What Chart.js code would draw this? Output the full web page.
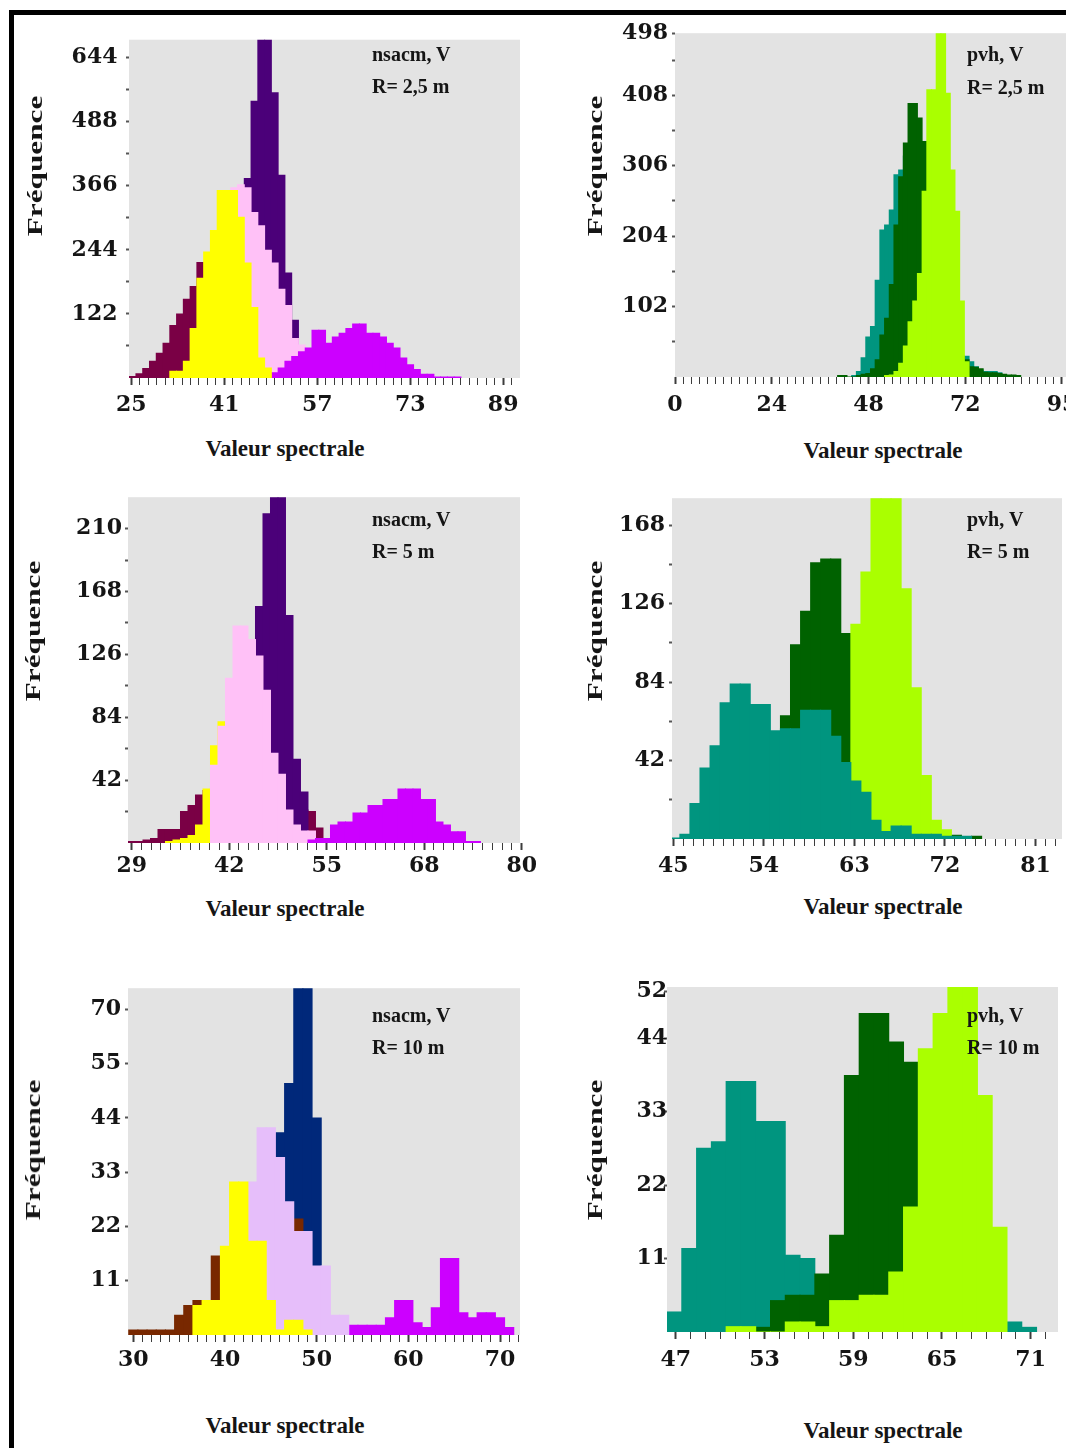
<!DOCTYPE html>
<html lang="fr">
<head>
<meta charset="utf-8">
<title>Histogrammes des valeurs spectrales</title>
<script src="https://cdn.jsdelivr.net/npm/chart.js@4.4.1/dist/chart.umd.min.js"></script>
<style>
    html, body { margin: 0; padding: 0; background: #ffffff; }
    body { position: relative; width: 1066px; height: 1448px; overflow: hidden; }
    .frame {
        position: absolute; left: 9px; top: 10px; width: 1200px; height: 1600px;
        border-left: 5px solid #000; border-top: 5px solid #000;
    }
    .panel { position: absolute; }
    .panel canvas { display: block; }
    .txt {
        position: absolute; white-space: nowrap; line-height: 1; color: #151515;
        font-family: 'Liberation Serif', 'Times New Roman', serif; z-index: 2;
    }
    .ytitle { font-size: 22px; font-weight: bold; transform: translate(-50%, -50%) rotate(-90deg) scaleX(1.42); }
    .xtitle { font-size: 23px; font-weight: bold; transform: translate(-50%, -50%); }
    .note { font-size: 20px; font-weight: bold; transform: translateY(-50%); }
</style>
</head>
<body>
<div class="frame"></div>

<!-- axis titles -->
<div class="txt ytitle" style="left:35px; top:166px;">Fréquence</div>
<div class="txt ytitle" style="left:595px; top:166px;">Fréquence</div>
<div class="txt ytitle" style="left:33px; top:631px;">Fréquence</div>
<div class="txt ytitle" style="left:595px; top:631px;">Fréquence</div>
<div class="txt ytitle" style="left:33px; top:1150px;">Fréquence</div>
<div class="txt ytitle" style="left:595px; top:1150px;">Fréquence</div>

<div class="txt xtitle" style="left:285px; top:448px;">Valeur spectrale</div>
<div class="txt xtitle" style="left:883px; top:450px;">Valeur spectrale</div>
<div class="txt xtitle" style="left:285px; top:908px;">Valeur spectrale</div>
<div class="txt xtitle" style="left:883px; top:906px;">Valeur spectrale</div>
<div class="txt xtitle" style="left:285px; top:1425px;">Valeur spectrale</div>
<div class="txt xtitle" style="left:883px; top:1430px;">Valeur spectrale</div>

<!-- panel notes -->
<div class="txt note" style="left:372px; top:54px;">nsacm, V</div>
<div class="txt note" style="left:372px; top:86px;">R= 2,5 m</div>
<div class="txt note" style="left:967px; top:54px;">pvh, V</div>
<div class="txt note" style="left:967px; top:87px;">R= 2,5 m</div>
<div class="txt note" style="left:372px; top:519px;">nsacm, V</div>
<div class="txt note" style="left:372px; top:551px;">R= 5 m</div>
<div class="txt note" style="left:967px; top:519px;">pvh, V</div>
<div class="txt note" style="left:967px; top:551px;">R= 5 m</div>
<div class="txt note" style="left:372px; top:1015px;">nsacm, V</div>
<div class="txt note" style="left:372px; top:1047px;">R= 10 m</div>
<div class="txt note" style="left:967px; top:1015px;">pvh, V</div>
<div class="txt note" style="left:967px; top:1047px;">R= 10 m</div>

<script>
// Histograms of spectral values, six panels (nsacm / pvh, R = 2,5 / 5 / 10 m)

// Colours
const colors = {
    plotBg: '#e3e3e3',
    maroon: '#7a0045',
    yellow: '#ffff00',
    pink: '#ffc1f7',
    indigo: '#4b0079',
    magenta: '#cc00ff',
    brown: '#782800',
    lavender: '#e6befa',
    navy: '#00287a',
    teal: '#00957f',
    darkGreen: '#006200',
    lightGreen: '#aaff00',
    tick: '#3c3c3c',
    text: '#151515'
};

// ---------- Panel 1 : nsacm, V, R = 2,5 m ----------
const p1BinStart = 24.63;
const p1BinWidth = 1.1655;
const p1MaroonFrom = 0;
const p1Maroon = [3, 8, 18, 32, 47, 66, 100, 122, 150, 174, 220, 200, 150, 100, 60, 30, 12];
const p1YellowFrom = 6;
const p1Yellow = [13, 13, 32, 94, 190, 240, 281, 357, 357, 357, 306, 219, 134, 38, 19];
const p1PinkFrom = 13;
const p1Pink = [250, 300, 362, 368, 362, 315, 290, 243, 219, 169, 138, 75, 63, 25, 15, 10];
const p1IndigoFrom = 15;
const p1Indigo = [250, 330, 380, 527, 650, 650, 543, 386, 200, 110];
const p1MagentaFrom = 21;
const p1Magenta = [10, 19, 32, 41, 50, 57, 91, 91, 66, 78, 85, 94, 103, 103, 85, 85, 78, 66, 57, 38, 25, 16, 7, 7, 2, 2, 2, 2];
const p1XMajor = [25, 41, 57, 73, 89];
const p1XLabels = ['25', '41', '57', '73', '89'];
const p1YTicks = [61, 122, 183, 244, 305, 366, 427, 488, 549, 610];
const p1YLabels = ['', '122', '', '244', '', '366', '', '488', '', '644'];

// ---------- Panel 2 : pvh, V, R = 2,5 m ----------
const p2BinStart = 33.35;
const p2BinWidth = 1.165;
const p2TealFrom = 9;
const p2Teal = [2, 8, 28, 58, 73, 140, 213, 220, 242, 293, 300, 320, 330, 320, 290, 250, 200, 150, 110, 80, 60, 45, 35, 28, 30, 22, 15, 10, 8, 8, 8, 6, 3, 2];
const p2DarkGreenFrom = 6;
const p2DarkGreen = [2, 2, 0, 0, 2, 4, 5, 12, 25, 61, 85, 134, 220, 290, 339, 396, 396, 375, 341, 300, 250, 200, 150, 100, 70, 45, 30, 25, 15, 14, 12, 7, 6, 6, 5, 4, 3, 3, 2];
const p2LightGreenFrom = 16;
const p2LightGreen = [2, 3, 8, 20, 45, 80, 110, 150, 269, 416, 416, 498, 498, 411, 300, 240, 110, 22];
const p2XMajor = [0, 24, 48, 72, 96];
const p2XLabels = ['0', '24', '48', '72', '95'];
const p2YTicks = [51, 102, 153, 204, 255, 306, 357, 408, 459, 498];
const p2YLabels = ['', '102', '', '204', '', '306', '', '408', '', '498'];

// ---------- Panel 3 : nsacm, V, R = 5 m ----------
const p3BinStart = 28.5;
const p3BinWidth = 1;
const p3MaroonFrom = 0;
const p3Maroon = [1, 1, 2, 3, 9, 9, 9, 21, 25, 32, 35, 38, 40, 40, 38, 35, 32, 30, 28, 26, 25, 24, 22, 22, 21, 10];
const p3YellowFrom = 5;
const p3Yellow = [1, 2, 3, 5, 12, 36, 65, 81, 70, 50, 30, 15, 6];
const p3PinkFrom = 11;
const p3Pink = [52, 78, 110, 145, 145, 136, 125, 102, 60, 46, 22, 12, 8, 8];
const p3IndigoFrom = 15;
const p3Indigo = [100, 130, 158, 220, 235, 235, 152, 56, 34];
const p3MagentaFrom = 24;
const p3Magenta = [2, 3, 3, 12, 14, 14, 20, 20, 25, 25, 29, 29, 36, 36, 36, 29, 29, 14, 12, 7.5, 7.5, 1, 1];
const p3XMajor = [29, 42, 55, 68, 81];
const p3XLabels = ['29', '42', '55', '68', '80'];
const p3YTicks = [21, 42, 63, 84, 105, 126, 147, 168, 189, 210];
const p3YLabels = ['', '42', '', '84', '', '126', '', '168', '', '210'];

// ---------- Panel 4 : pvh, V, R = 5 m ----------
const p4BinStart = 44.65;
const p4BinWidth = 1;
const p4TealFrom = 0;
const p4Teal = [0.5, 2.5, 19, 38, 50, 73, 83, 83, 72, 72, 58, 59, 59, 69, 69, 69, 55, 41, 31, 25, 10, 4, 7, 7, 2.5, 2.5, 2.5, 1.5, 1.5, 1.5];
const p4DarkGreenFrom = 4;
const p4DarkGreen = [3, 6, 10, 15, 20, 30, 40, 66, 104, 122, 148, 150, 150, 110, 90, 60, 35, 15, 8, 6, 4, 3, 2, 2, 2, 1, 1.5];
const p4LightGreenFrom = 18;
const p4LightGreen = [115, 143, 185, 185, 185, 134, 81, 34, 10, 5, 1];
const p4XMajor = [45, 54, 63, 72, 81];
const p4XLabels = ['45', '54', '63', '72', '81'];
const p4YTicks = [21, 42, 63, 84, 105, 126, 147, 168];
const p4YLabels = ['', '42', '', '84', '', '126', '', '168'];

// ---------- Panel 5 : nsacm, V, R = 10 m ----------
const p5BinStart = 29.5;
const p5BinWidth = 1;
const p5BrownFrom = 0;
const p5Brown = [1, 1, 1, 1, 1, 4, 6, 7, 7, 16, 14, 12, 12, 14, 16, 18, 20, 22, 23.5, 10];
const p5YellowFrom = 7;
const p5Yellow = [6, 7, 7, 18, 31, 31, 19, 19, 7, 1, 3, 3, 1];
const p5LavenderFrom = 10;
const p5Lavender = [3, 8, 20, 31, 42, 42, 36, 27, 21, 21, 14, 14, 4, 4];
const p5NavyFrom = 15;
const p5Navy = [35, 41, 51, 75, 75, 44];
const p5MagentaFrom = 24;
const p5Magenta = [2, 2, 2, 2, 3.5, 7, 7, 2.5, 1.5, 5.5, 15.5, 15.5, 4.5, 3.5, 4.5, 4.5, 3.5, 1.5];
const p5XMajor = [30, 40, 50, 60, 70];
const p5XLabels = ['30', '40', '50', '60', '70'];
const p5YTicks = [11, 22, 33, 44, 55, 66];
const p5YLabels = ['11', '22', '33', '44', '55', '70'];

// ---------- Panel 6 : pvh, V, R = 10 m ----------
const p6BinStart = 46.4;
const p6BinWidth = 1;
const p6TealFrom = 0;
const p6Teal = [3, 12.5, 27.5, 28.5, 37.5, 37.5, 31.5, 31.5, 11.5, 11, 6, 4, 2, 0, 0, 0, 0, 0, 0, 0, 0, 0, 0, 1.5, 0.7];
const p6DarkGreenFrom = 6;
const p6DarkGreen = [0.7, 4.7, 5.5, 5.5, 8.7, 14.5, 38.4, 47.7, 47.7, 43.4, 40.4, 30, 20, 10, 5, 2];
const p6LightGreenFrom = 4;
const p6LightGreen = [0.8, 0.8, 0, 0, 1.5, 1.5, 0.8, 4.7, 4.7, 5.5, 5.5, 9, 18.7, 42.4, 47.7, 53, 53, 35.4, 15.7];
const p6XMajor = [47, 53, 59, 65, 71];
const p6XLabels = ['47', '53', '59', '65', '71'];
const p6YTicks = [11, 22, 33, 44, 51];
const p6YLabels = ['11', '22', '33', '44', '52'];

// space kept round each grey plot area for the axes
const GUTTER = { left: 110, top: 16, right: 30, bottom: 50 };

const tickFont = { family: "'DejaVu Serif', serif", size: 22, weight: 'bold' };

// Panel table built from the arrays above; series are listed front to back
const panels = [
    {
        area: { left: 129, top: 34, right: 520, bottom: 378 },
        xMin: 24.6, xMax: 91.9, yMax: 644,
        binStart: p1BinStart, binWidth: p1BinWidth,
        series: [
            { label: 'jaune', color: colors.yellow, from: p1YellowFrom, counts: p1Yellow },
            { label: 'magenta', color: colors.magenta, from: p1MagentaFrom, counts: p1Magenta },
            { label: 'rose', color: colors.pink, from: p1PinkFrom, counts: p1Pink },
            { label: 'bordeaux', color: colors.maroon, from: p1MaroonFrom, counts: p1Maroon },
            { label: 'indigo', color: colors.indigo, from: p1IndigoFrom, counts: p1Indigo }
        ],
        xMajor: p1XMajor, xLabels: p1XLabels, xSub: 11,
        yTicks: p1YTicks, yLabels: p1YLabels,
        xPad: 7.5, yPad: 8.5
    },
    {
        area: { left: 675, top: 32, right: 1070, bottom: 377 },
        xMin: 0, xMax: 98, yMax: 498,
        binStart: p2BinStart, binWidth: p2BinWidth,
        series: [
            { label: 'vert clair', color: colors.lightGreen, from: p2LightGreenFrom, counts: p2LightGreen },
            { label: 'vert foncé', color: colors.darkGreen, from: p2DarkGreenFrom, counts: p2DarkGreen },
            { label: 'turquoise', color: colors.teal, from: p2TealFrom, counts: p2Teal }
        ],
        xMajor: p2XMajor, xLabels: p2XLabels, xSub: 12,
        yTicks: p2YTicks, yLabels: p2YLabels,
        xPad: 8.5, yPad: 4
    },
    {
        area: { left: 128, top: 497, right: 520, bottom: 843 },
        xMin: 28.5, xMax: 80.77, yMax: 231,
        binStart: p3BinStart, binWidth: p3BinWidth,
        series: [
            { label: 'magenta', color: colors.magenta, from: p3MagentaFrom, counts: p3Magenta },
            { label: 'rose', color: colors.pink, from: p3PinkFrom, counts: p3Pink },
            { label: 'jaune', color: colors.yellow, from: p3YellowFrom, counts: p3Yellow },
            { label: 'indigo', color: colors.indigo, from: p3IndigoFrom, counts: p3Indigo },
            { label: 'bordeaux', color: colors.maroon, from: p3MaroonFrom, counts: p3Maroon }
        ],
        xMajor: p3XMajor, xLabels: p3XLabels, xSub: 10,
        yTicks: p3YTicks, yLabels: p3YLabels,
        xPad: 3, yPad: 3
    },
    {
        area: { left: 672, top: 497, right: 1062, bottom: 839 },
        xMin: 44.87, xMax: 83.64, yMax: 182.5,
        binStart: p4BinStart, binWidth: p4BinWidth,
        series: [
            { label: 'turquoise', color: colors.teal, from: p4TealFrom, counts: p4Teal },
            { label: 'vert clair', color: colors.lightGreen, from: p4LightGreenFrom, counts: p4LightGreen },
            { label: 'vert foncé', color: colors.darkGreen, from: p4DarkGreenFrom, counts: p4DarkGreen }
        ],
        xMajor: p4XMajor, xLabels: p4XLabels, xSub: 9,
        yTicks: p4YTicks, yLabels: p4YLabels,
        xPad: 7, yPad: 4
    },
    {
        area: { left: 128, top: 987, right: 520, bottom: 1335 },
        xMin: 29.42, xMax: 72.18, yMax: 70.3,
        binStart: p5BinStart, binWidth: p5BinWidth,
        series: [
            { label: 'jaune', color: colors.yellow, from: p5YellowFrom, counts: p5Yellow },
            { label: 'lavande', color: colors.lavender, from: p5LavenderFrom, counts: p5Lavender },
            { label: 'brun', color: colors.brown, from: p5BrownFrom, counts: p5Brown },
            { label: 'bleu marine', color: colors.navy, from: p5NavyFrom, counts: p5Navy },
            { label: 'magenta', color: colors.magenta, from: p5MagentaFrom, counts: p5Magenta }
        ],
        xMajor: p5XMajor, xLabels: p5XLabels, xSub: 10,
        yTicks: p5YTicks, yLabels: p5YLabels,
        xPad: 5, yPad: 4
    },
    {
        area: { left: 667, top: 987, right: 1058, bottom: 1332 },
        xMin: 46.4, xMax: 72.85, yMax: 51.65,
        binStart: p6BinStart, binWidth: p6BinWidth,
        series: [
            { label: 'vert clair', color: colors.lightGreen, from: p6LightGreenFrom, counts: p6LightGreen },
            { label: 'vert foncé', color: colors.darkGreen, from: p6DarkGreenFrom, counts: p6DarkGreen },
            { label: 'turquoise', color: colors.teal, from: p6TealFrom, counts: p6Teal }
        ],
        xMajor: p6XMajor, xLabels: p6XLabels, xSub: 6,
        yTicks: p6YTicks, yLabels: p6YLabels,
        xPad: 8, yPad: -3
    }
];

// bin counts -> {x, y} points at the bin centres
function binPoints(binStart, binWidth, firstBin, counts) {
    return counts.map((count, i) => ({
        x: +(binStart + (firstBin + i + 0.5) * binWidth).toFixed(4),
        y: count
    }));
}

// labelled ticks plus evenly spaced unlabelled ones in between
function xTickList(majors, labels, subdivisions, min, max) {
    const step = (majors[1] - majors[0]) / subdivisions;
    const ticks = [];
    for (let v = majors[0] - step; v >= min - 1e-9; v -= step) {
        ticks.unshift({ value: +v.toFixed(4), label: '', big: false });
    }
    majors.forEach((m, i) => {
        ticks.push({ value: m, label: labels[i], big: true });
        const limit = i < majors.length - 1 ? majors[i + 1] - 1e-6 : max + 1e-9;
        for (let k = 1; m + k * step < limit; k++) {
            ticks.push({ value: +(m + k * step).toFixed(4), label: '', big: false });
        }
    });
    return ticks;
}

// grey plotting area
const plotBackground = {
    id: 'plotBackground',
    beforeDraw(chart) {
        const { ctx, chartArea: a } = chart;
        ctx.save();
        ctx.fillStyle = colors.plotBg;
        ctx.fillRect(a.left, a.top, a.right - a.left, a.bottom - a.top);
        ctx.restore();
    }
};

function createHistogram(canvas, p) {
    const xTicks = xTickList(p.xMajor, p.xLabels, p.xSub, p.xMin, p.xMax);
    const yTicks = p.yTicks.map((v, i) => ({ value: v, label: p.yLabels[i], big: p.yLabels[i] !== '' }));

    return new Chart(canvas, {
        type: 'bar',
        data: {
            datasets: p.series.map(s => ({
                label: s.label,
                data: binPoints(p.binStart, p.binWidth, s.from, s.counts),
                backgroundColor: s.color,
                borderWidth: 0,
                barPercentage: 1,
                categoryPercentage: 1,
                grouped: false,
                inflateAmount: 0.5
            }))
        },
        options: {
            responsive: true,
            maintainAspectRatio: false,
            animation: false,
            events: [],
            layout: {
                padding: { top: GUTTER.top, right: GUTTER.right, left: 0, bottom: 0 }
            },
            plugins: {
                legend: { display: false },
                tooltip: { enabled: false }
            },
            scales: {
                x: {
                    type: 'linear',
                    min: p.xMin,
                    max: p.xMax,
                    offset: false,
                    bounds: 'data',
                    afterFit: scale => { scale.height = GUTTER.bottom; },
                    afterBuildTicks: scale => {
                        scale.ticks = xTicks.map(t => ({ value: t.value, big: t.big }));
                    },
                    ticks: {
                        autoSkip: false,
                        maxRotation: 0,
                        padding: p.xPad,
                        color: colors.text,
                        font: tickFont,
                        callback: (value, index) => xTicks[index].label
                    },
                    grid: {
                        offset: false,
                        drawOnChartArea: false,
                        tickLength: 7,
                        tickColor: colors.tick,
                        tickWidth: ctx => (ctx.tick && ctx.tick.big ? 2 : 1)
                    },
                    border: { display: false }
                },
                y: {
                    min: 0,
                    max: p.yMax,
                    afterFit: scale => { scale.width = GUTTER.left; },
                    afterBuildTicks: scale => {
                        scale.ticks = yTicks.map(t => ({ value: t.value, big: t.big }));
                    },
                    ticks: {
                        autoSkip: false,
                        padding: p.yPad,
                        color: colors.text,
                        font: tickFont,
                        callback: (value, index) => yTicks[index].label
                    },
                    grid: {
                        drawOnChartArea: false,
                        tickLength: 3,
                        tickColor: '#555555',
                        tickWidth: 2
                    },
                    border: { display: false }
                }
            }
        },
        plugins: [plotBackground]
    });
}

panels.forEach(p => {
    const box = document.createElement('div');
    box.className = 'panel';
    box.style.left = (p.area.left - GUTTER.left) + 'px';
    box.style.top = (p.area.top - GUTTER.top) + 'px';
    box.style.width = (p.area.right - p.area.left + GUTTER.left + GUTTER.right) + 'px';
    box.style.height = (p.area.bottom - p.area.top + GUTTER.top + GUTTER.bottom) + 'px';
    const canvas = document.createElement('canvas');
    box.appendChild(canvas);
    document.body.appendChild(box);
    createHistogram(canvas, p);
});
</script>
</body>
</html>
